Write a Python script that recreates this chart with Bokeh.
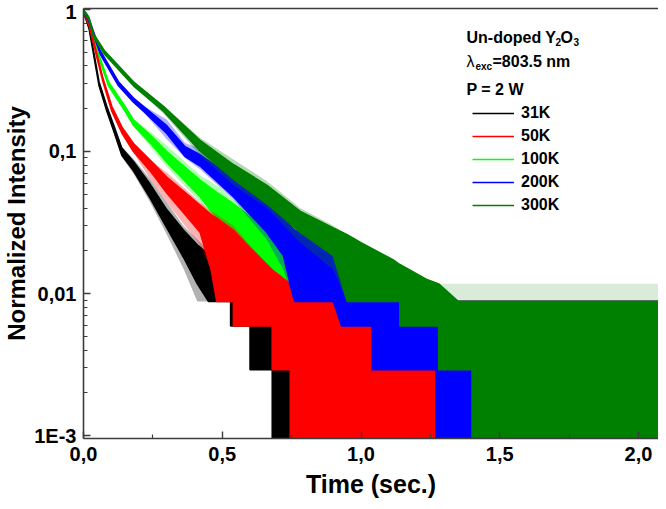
from bokeh.plotting import figure
from bokeh.models import Range1d, FixedTicker, LinearAxis, Legend, LegendItem, Label
from bokeh.embed import file_html
from bokeh.resources import INLINE

# ---------------- data ----------------
series_names = ["31K", "50K", "100K", "200K", "300K"]
series_colors = ["#000000", "#ff0000", "#00ff00", "#0000ff", "#008000"]

# time (s); dense core of the noisy decay (lo/hi) and extreme spikes (ext_lo/ext_hi)
t_31K = [0, 0.01, 0.02, 0.036, 0.056, 0.084, 0.11, 0.138, 0.18, 0.24, 0.30, 0.36, 0.41, 0.45, 0.53, 0.53, 0.60, 0.60, 0.68, 0.68, 0.75, 2.08]
lo_31K = [0.93, 0.84, 0.73, 0.485, 0.29, 0.192, 0.137, 0.094, 0.073, 0.047, 0.029, 0.018, 0.0117, 0.0088, 0.0088, 0.0059, 0.0059, 0.0029, 0.0029, 0.0008, 0.0008, 0.0008]
hi_31K = [0.975, 0.88, 0.77, 0.515, 0.31, 0.208, 0.151, 0.106, 0.085, 0.059, 0.039, 0.028, 0.022, 0.019, 0.0147, 0.0147, 0.0117, 0.0117, 0.0117, 0.0117, 0.0088, 0.0088]
ext_lo_31K = [0.93, 0.84, 0.73, 0.48, 0.29, 0.19, 0.135, 0.092, 0.070, 0.044, 0.026, 0.015, 0.0088, 0.0088, 0.0088, 0.0059, 0.0059, 0.0029, 0.0029, 0.0008, 0.0008, 0.0008]
ext_hi_31K = [0.98, 0.88, 0.77, 0.52, 0.31, 0.21, 0.152, 0.108, 0.089, 0.064, 0.044, 0.030, 0.024, 0.020, 0.0147, 0.0147, 0.0117, 0.0117, 0.0117, 0.0117, 0.0088, 0.0088]

t_50K = [0, 0.01, 0.02, 0.045, 0.07, 0.102, 0.14, 0.18, 0.24, 0.30, 0.42, 0.46, 0.48, 0.54, 0.54, 0.60, 0.68, 0.68, 0.745, 0.745, 0.80, 2.08]
lo_50K = [0.94, 0.86, 0.77, 0.485, 0.31, 0.192, 0.133, 0.100, 0.073, 0.051, 0.027, 0.0147, 0.0088, 0.0088, 0.0059, 0.0059, 0.0059, 0.0029, 0.0029, 0.0008, 0.0008, 0.0008]
hi_50K = [0.98, 0.90, 0.81, 0.515, 0.33, 0.208, 0.147, 0.114, 0.087, 0.066, 0.042, 0.036, 0.034, 0.028, 0.028, 0.021, 0.0147, 0.0147, 0.0117, 0.0117, 0.0088, 0.0088]
ext_lo_50K = [0.94, 0.86, 0.77, 0.48, 0.31, 0.19, 0.132, 0.098, 0.064, 0.044, 0.022, 0.0147, 0.0088, 0.0088, 0.0059, 0.0059, 0.0059, 0.0029, 0.0029, 0.0008, 0.0008, 0.0008]
ext_hi_50K = [0.98, 0.90, 0.81, 0.52, 0.33, 0.21, 0.148, 0.116, 0.087, 0.071, 0.044, 0.038, 0.036, 0.030, 0.030, 0.022, 0.0147, 0.0147, 0.0117, 0.0117, 0.0088, 0.0088]

t_100K = [0, 0.01, 0.02, 0.05, 0.09, 0.15, 0.18, 0.24, 0.30, 0.42, 0.49, 0.54, 0.59, 0.66, 0.68, 0.73, 0.78, 0.85, 0.95, 1.0, 2.08]
lo_100K = [0.95, 0.88, 0.80, 0.485, 0.29, 0.192, 0.153, 0.115, 0.084, 0.048, 0.032, 0.025, 0.0185, 0.0147, 0.0117, 0.0088, 0.0059, 0.0029, 0.0008, 0.0008, 0.0008]
hi_100K = [0.99, 0.92, 0.84, 0.515, 0.31, 0.208, 0.167, 0.131, 0.100, 0.063, 0.050, 0.043, 0.036, 0.028, 0.026, 0.021, 0.0147, 0.0117, 0.0117, 0.0088, 0.0088]
ext_lo_100K = [0.95, 0.88, 0.80, 0.48, 0.29, 0.19, 0.15, 0.108, 0.078, 0.044, 0.025, 0.020, 0.0147, 0.0125, 0.0117, 0.0088, 0.0059, 0.0029, 0.0008, 0.0008, 0.0008]
ext_hi_100K = [0.99, 0.92, 0.84, 0.52, 0.31, 0.21, 0.17, 0.138, 0.110, 0.068, 0.056, 0.046, 0.040, 0.030, 0.028, 0.021, 0.0147, 0.0117, 0.0117, 0.0088, 0.0088]

t_200K = [0, 0.01, 0.02, 0.06, 0.126, 0.18, 0.216, 0.30, 0.366, 0.42, 0.54, 0.66, 0.72, 0.76, 0.90, 0.93, 1.04, 1.04, 1.15, 1.27, 1.27, 2.08]
lo_200K = [0.95, 0.89, 0.82, 0.485, 0.29, 0.222, 0.192, 0.134, 0.092, 0.079, 0.048, 0.027, 0.0185, 0.0088, 0.0088, 0.0059, 0.0059, 0.0029, 0.0029, 0.0029, 0.0008, 0.0008]
hi_200K = [0.99, 0.93, 0.86, 0.515, 0.31, 0.238, 0.208, 0.152, 0.108, 0.095, 0.065, 0.042, 0.034, 0.028, 0.020, 0.018, 0.0147, 0.0147, 0.0117, 0.0088, 0.0088, 0.0088]
ext_lo_200K = [0.95, 0.89, 0.82, 0.48, 0.29, 0.22, 0.19, 0.122, 0.09, 0.075, 0.046, 0.024, 0.0147, 0.0088, 0.0088, 0.0059, 0.0059, 0.0029, 0.0029, 0.0029, 0.0008, 0.0008]
ext_hi_200K = [0.99, 0.93, 0.86, 0.52, 0.31, 0.24, 0.21, 0.168, 0.115, 0.105, 0.068, 0.046, 0.036, 0.030, 0.020, 0.018, 0.0147, 0.0147, 0.0117, 0.0088, 0.0088, 0.0088]

t_300K = [0, 0.01, 0.02, 0.036, 0.075, 0.18, 0.288, 0.42, 0.54, 0.66, 0.78, 0.90, 0.95, 1.0, 1.115, 1.14, 1.14, 1.235, 1.28, 1.28, 1.35, 1.40, 1.40, 2.08]
lo_300K = [0.96, 0.90, 0.84, 0.645, 0.485, 0.29, 0.192, 0.101, 0.064, 0.043, 0.027, 0.0185, 0.0088, 0.0088, 0.0088, 0.0088, 0.0059, 0.0059, 0.0059, 0.0029, 0.0029, 0.0029, 0.0008, 0.0008]
hi_300K = [0.99, 0.94, 0.88, 0.675, 0.515, 0.31, 0.208, 0.120, 0.081, 0.058, 0.038, 0.029, 0.026, 0.0228, 0.0173, 0.016, 0.016, 0.0126, 0.0117, 0.0117, 0.0088, 0.0088, 0.0088, 0.0088]
ext_lo_300K = [0.96, 0.90, 0.84, 0.64, 0.48, 0.29, 0.185, 0.094, 0.058, 0.040, 0.023, 0.0147, 0.0088, 0.0088, 0.0088, 0.0088, 0.0059, 0.0059, 0.0059, 0.0029, 0.0029, 0.0029, 0.0008, 0.0008]
ext_hi_300K = [0.99, 0.94, 0.88, 0.68, 0.52, 0.31, 0.21, 0.125, 0.088, 0.062, 0.040, 0.030, 0.026, 0.0228, 0.0173, 0.016, 0.016, 0.0126, 0.0117, 0.0117, 0.0088, 0.0088, 0.0088, 0.0088]

# sparse single-count spikes above the background tail
spike_t = [0.75, 2.08]
spike_low = [0.0088, 0.0088]
spike_high = [0.0117, 0.0117]

x_ticks = [0.0, 0.5, 1.0, 1.5, 2.0]
x_tick_labels = ["0,0", "0,5", "1,0", "1,5", "2,0"]
y_ticks = [0.001, 0.01, 0.1, 1.0]
y_tick_labels = ["1E-3", "0,01", "0,1", "1"]

series = {
    "31K": (t_31K, lo_31K, hi_31K, ext_lo_31K, ext_hi_31K),
    "50K": (t_50K, lo_50K, hi_50K, ext_lo_50K, ext_hi_50K),
    "100K": (t_100K, lo_100K, hi_100K, ext_lo_100K, ext_hi_100K),
    "200K": (t_200K, lo_200K, hi_200K, ext_lo_200K, ext_hi_200K),
    "300K": (t_300K, lo_300K, hi_300K, ext_lo_300K, ext_hi_300K),
}
draw_order = ["31K", "100K", "50K", "200K", "300K"]

FONT = "Liberation Sans"

p = figure(width=658, height=501,
           x_range=Range1d(0, 2.072), y_range=Range1d(0.000953, 1.016),
           y_axis_type="log", output_backend="svg", toolbar_location=None,
           min_border_left=82, min_border_right=0, min_border_top=8, min_border_bottom=63)
p.grid.visible = False
p.outline_line_color = None
p.background_fill_color = "white"
p.border_fill_color = "white"

p.varea(x=spike_t, y1=spike_low, y2=spike_high, fill_color="#008000", fill_alpha=0.15)

legend_renderers = {}
for name in draw_order:
    i = series_names.index(name)
    col = series_colors[i]
    t, lo, hi, elo, ehi = series[name]
    p.varea(x=t, y1=elo, y2=ehi, fill_color=col, fill_alpha=0.3)
    p.varea(x=t, y1=lo, y2=hi, fill_color=col)
    p.line(t, lo, line_color=col, line_width=1.5)
    r = p.line(t, hi, line_color=col, line_width=1.5)
    legend_renderers[name] = r

AX_COL = "#3c3c3c"
for ax in (p.xaxis[0], p.yaxis[0]):
    ax.axis_line_color = AX_COL
    ax.axis_line_width = 1.6
    ax.major_tick_line_color = AX_COL
    ax.minor_tick_line_color = AX_COL
    ax.major_tick_line_width = 1.4
    ax.minor_tick_line_width = 1.2
    ax.major_tick_in = 7
    ax.major_tick_out = 0
    ax.minor_tick_in = 4
    ax.minor_tick_out = 0
    ax.major_label_text_font = FONT
    ax.major_label_text_font_style = "bold"
    ax.major_label_text_font_size = "20px"
    ax.major_label_text_color = "black"
    ax.axis_label_text_font = FONT
    ax.axis_label_text_font_style = "bold"
    ax.axis_label_text_color = "black"

xa = p.xaxis[0]
xa.ticker = FixedTicker(ticks=x_ticks, minor_ticks=[0.25, 0.75, 1.25, 1.75])
xa.major_label_overrides = dict(zip(x_ticks, x_tick_labels))
xa.major_label_standoff = 8
xa.axis_label = "Time (sec.)"
xa.axis_label_text_font_size = "25px"
xa.axis_label_standoff = 6

ya = p.yaxis[0]
ya.ticker = FixedTicker(ticks=y_ticks,
                        minor_ticks=[m * 10.0 ** e for e in (-3, -2, -1) for m in range(2, 10)])
ya.major_label_overrides = dict(zip(y_ticks, y_tick_labels))
ya.major_label_standoff = 7
ya.axis_label = "Normalized Intensity"
ya.axis_label_text_font_size = "24px"
ya.axis_label_standoff = 1

top = LinearAxis(ticker=FixedTicker(ticks=[]), major_label_text_font_size="0px",
                 major_label_standoff=0, axis_label_standoff=0,
                 axis_line_color=AX_COL, axis_line_width=1.6,
                 major_tick_line_color=None, minor_tick_line_color=None)
p.add_layout(top, "above")

legend = Legend(items=[LegendItem(label=n, renderers=[legend_renderers[n]]) for n in series_names],
                location=(389, 223), orientation="vertical",
                glyph_width=42, glyph_height=20, label_height=20, spacing=3,
                label_standoff=7, padding=0, margin=0,
                border_line_color=None, background_fill_alpha=0,
                label_text_font=FONT, label_text_font_style="bold",
                label_text_font_size="16px", label_text_color="black")
p.add_layout(legend, "center")

FH = 430
def lab(txt, px, py, size, style="bold"):
    p.add_layout(Label(x=px - 90, y=FH - (py - 16), x_units="screen", y_units="screen",
                       text=txt, text_font=FONT, text_font_style=style,
                       text_font_size=size, text_color="black",
                       text_baseline="alphabetic", text_align="left"))

lab("Un-doped Y", 473, 45, "16px")
lab("2", 562, 49, "10px")
lab("O", 567, 45, "16px")
lab("3", 580, 49, "10px")
lab("\u03bb", 473, 69, "16px", "normal")
lab("exc", 482, 74, "10px")
lab("=803.5 nm", 499, 69, "16px")
lab("P = 2 W", 473, 97, "16px")

open("out.html", "w").write(file_html(p, INLINE))
